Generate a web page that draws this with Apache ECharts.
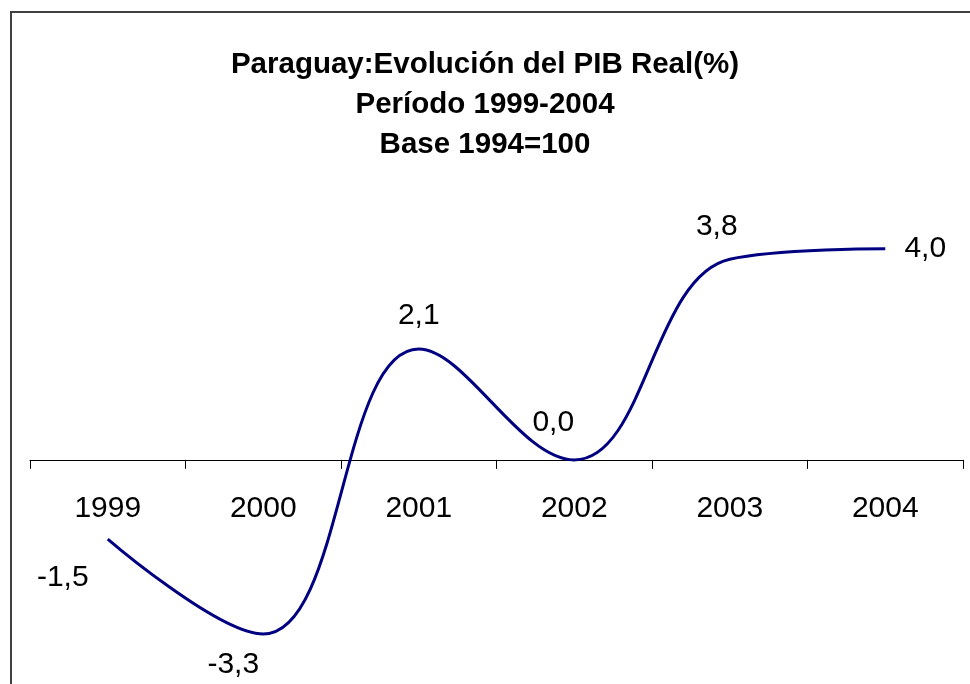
<!DOCTYPE html>
<html>
<head>
<meta charset="utf-8">
<script src="https://cdn.jsdelivr.net/npm/echarts@6/dist/echarts.min.js"></script>
<style>
  html, body { margin: 0; padding: 0; background: #fff; }
  #chart { width: 970px; height: 684px; }
</style>
</head>
<body>
<div id="chart"></div>
<script>
const years = ['1999', '2000', '2001', '2002', '2003', '2004']
const pibReal = [-1.5, -3.3, 2.1, 0.0, 3.8, 4.0]
// where each value label sits relative to its point (as in the original)
const labelOffsets = [[-45, 39], [-30, 31], [0, -33], [-21, -37], [-13, -33], [40, 0]]

const fontFam = '"Liberation Sans", Arial, sans-serif'
const chart = echarts.init(document.getElementById('chart'))

const yMin = -4, yMax = 5
const gridTop = 196, gridBottom = 13
const plotH = 684 - gridTop - gridBottom
// move the category axis up from the grid bottom to the zero line
const zeroShift = plotH * (0 - yMin) / (yMax - yMin)

const points = pibReal.map((v, i) => ({
  value: v,
  label: { offset: labelOffsets[i] }
}))

chart.setOption({
  animation: false,
  title: {
    text: 'Paraguay:Evolución del PIB Real(%)\nPeríodo 1999-2004\nBase 1994=100',
    left: 'center',
    top: 40,
    textStyle: {
      fontFamily: fontFam,
      fontWeight: 'bold',
      fontSize: 29.5,
      lineHeight: 40,
      color: '#000'
    }
  },
  graphic: [{
    type: 'rect',
    shape: { x: 11, y: 12, width: 1000, height: 1000 },
    style: { fill: 'none', stroke: '#404040', lineWidth: 2 },
    silent: true
  }],
  grid: { left: 30, right: 7, top: gridTop, bottom: gridBottom, containLabel: false, outerBoundsMode: 'none' },
  xAxis: {
    type: 'category',
    data: years,
    boundaryGap: true,
    position: 'bottom',
    offset: -zeroShift,
    axisLine: { onZero: false, lineStyle: { color: '#000', width: 1 } },
    axisTick: { show: true, inside: false, length: 9, lineStyle: { color: '#000' } },
    axisLabel: { fontFamily: fontFam, fontSize: 30, color: '#000', margin: 34 },
    splitLine: { show: false }
  },
  yAxis: {
    type: 'value',
    min: yMin,
    max: yMax,
    show: false,
    splitLine: { show: false }
  },
  series: [{
    type: 'line',
    data: points,
    smooth: 0.4,
    symbol: 'circle',
    symbolSize: 0,
    lineStyle: { color: '#000080', width: 3 },
    itemStyle: { color: '#000080' },
    label: {
      show: true,
      position: 'inside',
      fontFamily: fontFam,
      fontSize: 30,
      color: '#000',
      formatter: p => p.value.toFixed(1).replace('.', ',')
    }
  }]
})
</script>
</body>
</html>
